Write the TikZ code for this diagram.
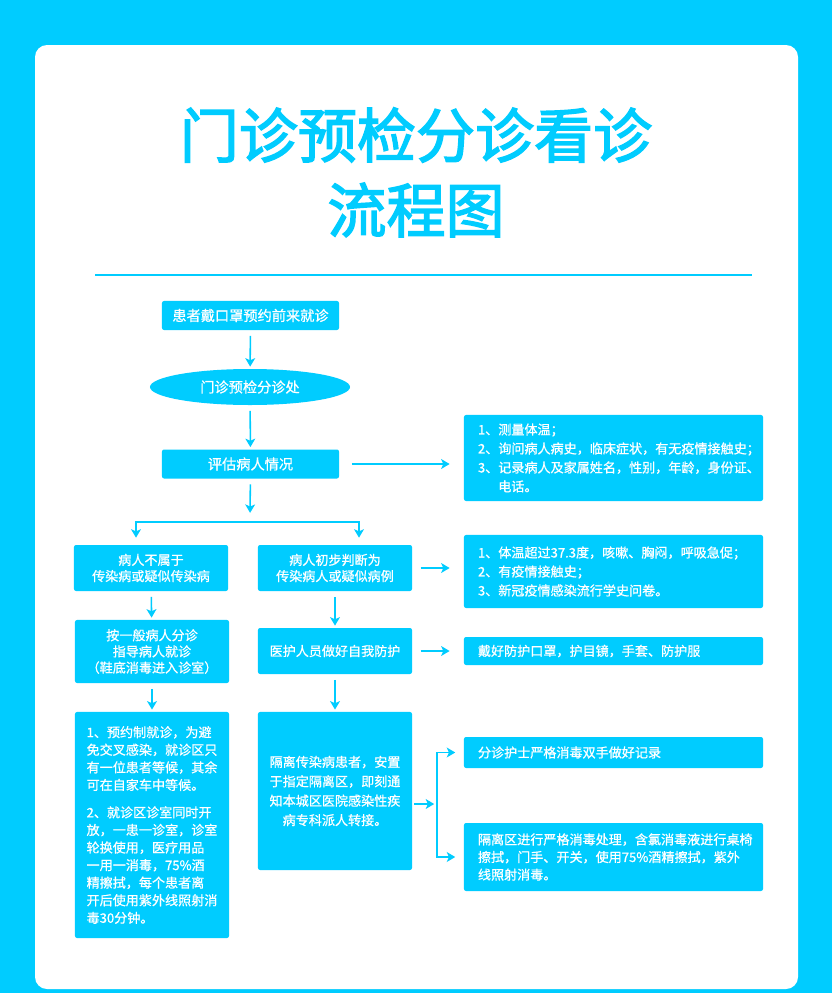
\documentclass[tikz,border=0pt]{standalone}
\usepackage{fontspec}
\setmainfont{Noto Sans CJK SC}[FakeBold=0.8]
\newfontfamily\titlefont{Noto Sans CJK SC}[FakeBold=2.5]
\definecolor{flowcyan}{RGB}{0,204,255}
\usetikzlibrary{arrows.meta,positioning,shapes.geometric,calc}

\begin{document}
\begin{tikzpicture}[x=0.025cm, y=-0.025cm,
    flowbox/.style={rectangle, rounded corners=1.5pt, fill=flowcyan, text=white,
                    minimum width=3.85cm, minimum height=1.15cm, align=center, inner sep=0pt,
                    font=\fontsize{9.3}{11.5}\selectfont},
    infobox/.style={rectangle, rounded corners=1.5pt, fill=flowcyan, text=white,
                    minimum width=7.475cm, text width=6.775cm, align=left,
                    inner xsep=0.35cm, inner ysep=0pt,
                    font=\fontsize{9.3}{13.5}\selectfont},
    arr/.style={-{Stealth[length=6pt,width=7pt,inset=1.5pt]}, line width=1.1pt, flowcyan,
                shorten <=4pt, shorten >=1.5pt}
  ]
    % Page frame
    \fill[flowcyan] (0,0) rectangle (832,993);
    \fill[white, rounded corners=0.3cm] (35,45) rectangle (798,989);
    \useasboundingbox (0,0) rectangle (832,993);

    % Title
    \node[text=flowcyan, font=\fontsize{42}{48}\selectfont\titlefont] (title1) at (416,135) {门诊预检分诊看诊};
    \node[text=flowcyan, font=\fontsize{42}{48}\selectfont\titlefont] (title2) at (416,210) {流程图};
    \draw[flowcyan, line width=2pt] (95,275) -- (752,275);

    % Main column
    \node[flowbox, minimum width=4.425cm, minimum height=0.725cm, font=\fontsize{10.1}{12}\selectfont] (visit) at (250.5,315.5) {患者戴口罩预约前来就诊};
    \node[ellipse, fill=flowcyan, text=white, minimum width=5cm, minimum height=0.9cm,
          inner sep=0pt, font=\fontsize{10.1}{12}\selectfont] (desk) at (250,387) {门诊预检分诊处};
    \node[flowbox, minimum width=4.425cm, minimum height=0.725cm, font=\fontsize{10.1}{12}\selectfont] (eval) at (250.5,464) {评估病人情况};
    \node[infobox, minimum height=2.15cm] (measure) at (613.5,458)
      {1、测量体温；\\2、询问病人病史，临床症状，有无疫情接触史；\\3、记录病人及家属姓名，性别，年龄，身份证、\\\phantom{3、}电话。};

    % Left branch: ordinary patients
    \node[flowbox] (notinf) at (151,568) {病人不属于\\传染病或疑似传染病};
    \node[flowbox, minimum height=1.575cm] (general) at (152,651.5) {按一般病人分诊\\指导病人就诊\\（鞋底消毒进入诊室）};
    \node[flowbox, minimum height=5.65cm, align=left, font=\fontsize{9.3}{12.5}\selectfont] (rules) at (152,825)
      {1、预约制就诊，为避\\免交叉感染，就诊区只\\有一位患者等候，其余\\可在自家车中等候。\\[7pt]
       2、就诊区诊室同时开\\放，一患一诊室，诊室\\轮换使用，医疗用品\\一用一消毒，75\%酒\\精擦拭，每个患者离\\开后使用紫外线照射消\\毒30分钟。};

    % Right branch: suspected cases
    \node[flowbox] (suspect) at (335,568) {病人初步判断为\\传染病人或疑似病例};
    \node[infobox, minimum height=1.825cm] (symptoms) at (613.5,571.5)
      {1、体温超过37.3度，咳嗽、胸闷，呼吸急促；\\2、有疫情接触史；\\3、新冠疫情感染流行学史问卷。};
    \node[flowbox] (protect) at (335,651) {医护人员做好自我防护};
    \node[infobox, minimum height=0.7cm] (gear) at (613.5,651) {戴好防护口罩，护目镜，手套、防护服};
    \node[flowbox, minimum height=3.95cm, font=\fontsize{9.3}{13.8}\selectfont] (isolate) at (335,791)
      {隔离传染病患者，安置\\于指定隔离区，即刻通\\知本城区医院感染性疾\\病专科派人转接。};
    \node[infobox, minimum height=0.775cm] (nurse) at (613.5,752.5) {分诊护士严格消毒双手做好记录};
    \node[infobox, minimum height=1.7cm, font=\fontsize{9.3}{12.5}\selectfont] (clean) at (613.5,857)
      {隔离区进行严格消毒处理，含氯消毒液进行桌椅\\擦拭，门手、开关，使用75\%酒精擦拭，紫外\\线照射消毒。};

    % Connectors
    \coordinate (split) at (250,522);
    \coordinate (fork) at (437,804);
    \draw[arr] (visit) -- (desk);
    \draw[arr] (desk) -- (eval);
    \draw[arr, shorten <=9pt, shorten >=10pt] (eval.east) -- (eval.east -| measure.west);
    \draw[arr, shorten >=6.5pt] (eval) -- (split);
    \draw[arr, shorten <=0pt, shorten >=5pt] (split) -| ($(notinf.north)+(-15,0)$);
    \draw[arr, shorten <=0pt, shorten >=5pt] (split) -| ($(suspect.north)+(24,0)$);
    \draw[arr, shorten <=6pt, shorten >=10pt] (suspect.east) -- (suspect.east -| symptoms.west);
    \draw[arr] (notinf) -- (general);
    \draw[arr] (suspect) -- (protect);
    \draw[arr, shorten <=6pt, shorten >=10pt] (protect.east) -- (protect.east -| gear.west);
    \draw[arr] (general) -- (rules);
    \draw[arr] (protect) -- (isolate);
    \draw[arr, shorten <=1.5pt, shorten >=2pt] (isolate.east |- fork) -- (fork);
    \draw[arr, shorten <=0pt, shorten >=6pt] (fork) |- (nurse.west);
    \draw[arr, shorten <=0pt, shorten >=6pt] (fork) |- (clean.west);
  \end{tikzpicture}
\end{document}
